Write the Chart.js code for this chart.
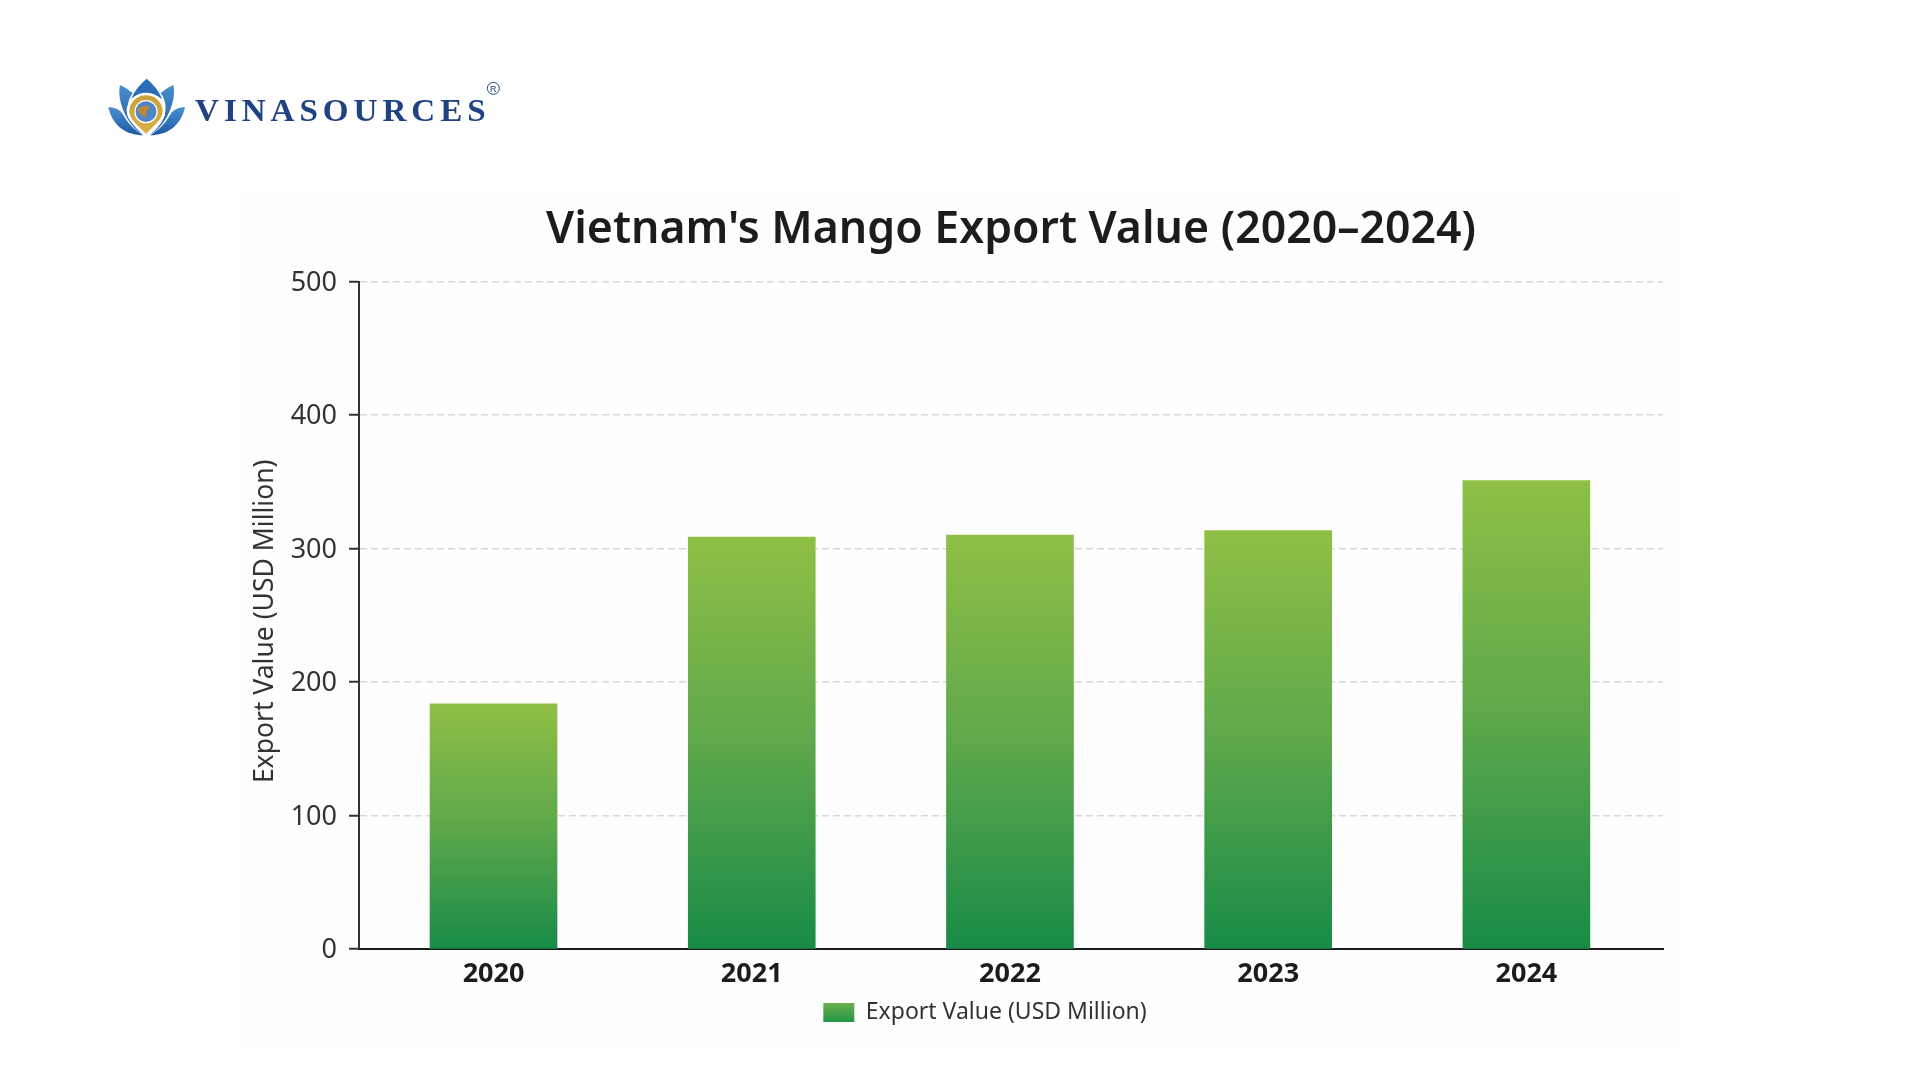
<!DOCTYPE html>
<html lang="en">
<head>
<meta charset="utf-8">
<title>Vietnam's Mango Export Value (2020–2024)</title>
<script src="https://cdn.jsdelivr.net/npm/chart.js@4"></script>
<style>
  html, body { margin: 0; padding: 0; background: #ffffff; }
  body { position: relative; width: 1920px; height: 1080px; overflow: hidden; }
  #panel { position: absolute; left: 240px; top: 190px; width: 1440px; height: 855px; background: #fefefe; }
  #chartWrap { position: absolute; left: 0; top: 0; width: 1920px; height: 1080px; }
  #logo { position: absolute; left: 90px; top: 60px; }
</style>
</head>
<body>
<div id="panel"></div>
<div id="chartWrap"><canvas id="chart" width="1920" height="1080"></canvas></div>

<svg id="logo" width="440" height="100" viewBox="0 0 1320 300" xmlns="http://www.w3.org/2000/svg">
  <defs>
    <linearGradient id="petal" x1="0" y1="0" x2="0" y2="1">
      <stop offset="0" stop-color="#4a8fcf"/>
      <stop offset="1" stop-color="#1d5aa6"/>
    </linearGradient>
    <linearGradient id="gold" x1="0" y1="0" x2="0" y2="1">
      <stop offset="0" stop-color="#c9a23c"/>
      <stop offset="1" stop-color="#d9b04a"/>
    </linearGradient>
  </defs>
  <!-- outer petals -->
  <path d="M55 142 C75 142 92 150 100 165 C116 195 138 212 160 226 C110 226 68 200 55 142 Z" fill="url(#petal)"/>
  <path d="M285 142 C265 142 248 150 240 165 C224 195 202 212 180 226 C230 226 272 200 285 142 Z" fill="url(#petal)"/>
  <!-- middle petals -->
  <path d="M90 75 C104 82 118 90 128 100 C114 118 110 140 116 165 C122 188 140 208 158 222 C120 205 78 130 90 75 Z" fill="url(#petal)"/>
  <path d="M250 75 C236 82 222 90 212 100 C226 118 230 140 224 165 C218 188 200 208 182 222 C220 205 262 130 250 75 Z" fill="url(#petal)"/>
  <!-- centre petal -->
  <path d="M170 56 C190 74 208 92 216 118 C190 94 150 94 124 118 C132 92 150 74 170 56 Z" fill="#2a6cb5"/>
  <!-- locator pin -->
  <path d="M168 98 C200 98 226 124 226 154 C226 184 190 208 168 230 C146 208 110 184 110 154 C110 124 136 98 168 98 Z" fill="#ffffff"/>
  <path d="M168 106 C196 106 218 128 218 154 C218 180 186 202 168 222 C150 202 118 180 118 154 C118 128 140 106 168 106 Z" fill="url(#gold)"/>
  <circle cx="168" cy="155" r="35" fill="#ffffff"/>
  <circle cx="168" cy="155" r="31" fill="#4f86c6"/>
  <path d="M143 146 C155 136 172 134 182 142 C172 148 166 158 170 170 C158 172 146 162 143 146 Z" fill="#b5893a"/>
  <!-- wordmark -->
  <text x="315" y="182" font-family="'Liberation Serif', serif" font-size="93" font-weight="700" letter-spacing="14" fill="#1f4282" textLength="887" lengthAdjust="spacingAndGlyphs">VINASOURCES</text>
  <circle cx="1210" cy="85" r="18" fill="none" stroke="#234a85" stroke-width="3"/>
  <text x="1210" y="95" text-anchor="middle" font-family="'Liberation Sans', sans-serif" font-size="27" fill="#234a85">R</text>
</svg>

<script>
// Annual export value, USD million
const years = [2020, 2021, 2022, 2023, 2024];
const exportValues = [183.7, 308.5, 310, 313.5, 351];
const seriesLabel = 'Export Value (USD Million)';
const chartTitle = "Vietnam's Mango Export Value (2020–2024)";
const valueTicks = [0, 100, 200, 300, 400, 500];

const FONT = "'Noto Sans', sans-serif";
const INK = '#1c1c1c';

// Each bar fades from lime at its own top to deep green at the baseline
function barFill(ctx) {
  const { chart, parsed } = ctx;
  if (!chart.chartArea || !parsed) return '#5ea84a';
  const y = chart.scales.y;
  const g = chart.ctx.createLinearGradient(0, y.getPixelForValue(parsed.y), 0, y.getPixelForValue(0));
  g.addColorStop(0, '#8fbf45');
  g.addColorStop(0.5, '#5ea84b');
  g.addColorStop(1, '#178b47');
  return g;
}

// Run a scale drawing step with a small vertical nudge
function nudged(scale, method, dy) {
  const draw = scale[method];
  scale[method] = function (...args) {
    this.ctx.save();
    this.ctx.translate(0, dy);
    draw.apply(this, args);
    this.ctx.restore();
  };
}

// Title follows the plot area; the legend sits slightly left of it
const blockPlacement = {
  id: 'blockPlacement',
  afterLayout(chart) {
    const area = chart.chartArea;
    chart.titleBlock.left = area.left;
    chart.titleBlock.right = area.right;
    chart.titleBlock.width = area.right - area.left;
    const w = chart.legend.right - chart.legend.left;
    chart.legend.left = 985 - w / 2;
    chart.legend.right = 985 + w / 2;
    const yScale = chart.scales.y;
    if (!yScale.$nudged) {
      yScale.$nudged = true;
      nudged(yScale, 'drawTitle', 6);
      nudged(yScale, 'drawLabels', 1.5);
    }
  }
};

new Chart(document.getElementById('chart'), {
  type: 'bar',
  data: {
    datasets: [{
      label: seriesLabel,
      data: years.map((year, i) => ({ x: year, y: exportValues[i] })),
      backgroundColor: barFill,
      barThickness: 127,
      borderWidth: 0
    }]
  },
  plugins: [blockPlacement],
  options: {
    responsive: false,
    animation: false,
    layout: { padding: { left: 240, right: 257, top: 0, bottom: 46 } },
    plugins: {
      title: {
        display: true,
        text: chartTitle,
        color: INK,
        font: { family: FONT, size: 44.6, weight: '600', lineHeight: 1.2 },
        padding: { top: 204, bottom: 24 }
      },
      legend: {
        position: 'bottom',
        labels: {
          color: '#333333',
          font: { family: FONT, size: 23 },
          boxWidth: 31,
          boxHeight: 19,
          padding: 0,
          generateLabels(chart) {
            const g = chart.ctx.createLinearGradient(0, 1001, 0, 1020);
            g.addColorStop(0, '#74b54a');
            g.addColorStop(1, '#279848');
            return [{ text: seriesLabel, fillStyle: g, strokeStyle: g, lineWidth: 0, fontColor: '#333333', datasetIndex: 0 }];
          }
        }
      },
      tooltip: { enabled: false }
    },
    scales: {
      x: {
        type: 'linear',
        offset: false,
        min: 2019.479,
        max: 2024.529,
        afterFit(scale) { scale.height += 9.5; },
        grid: { display: false },
        border: { display: true, color: INK, width: 2 },
        ticks: {
          stepSize: 1,
          includeBounds: false,
          color: INK,
          padding: 1,
          font: { family: FONT, size: 27, weight: '700' },
          callback: v => String(v)
        }
      },
      y: {
        min: 0,
        max: 500,
        afterFit(scale) { scale.width = 119; },
        afterBuildTicks(scale) { scale.ticks = valueTicks.map(value => ({ value })); },
        grid: {
          color: '#d8d8d8',
          lineWidth: 1.5,
          tickColor: '#333333',
          tickWidth: 2,
          tickLength: 10
        },
        border: { display: true, color: '#333333', width: 2, dash: [7, 4] },
        ticks: {
          color: '#333333',
          padding: 12,
          font: { family: FONT, size: 27 }
        },
        title: {
          display: true,
          text: seriesLabel,
          color: '#333333',
          font: { family: FONT, size: 26.5, lineHeight: 1.2 },
          padding: { top: 10, bottom: 0 }
        }
      }
    }
  }
});
</script>
</body>
</html>
